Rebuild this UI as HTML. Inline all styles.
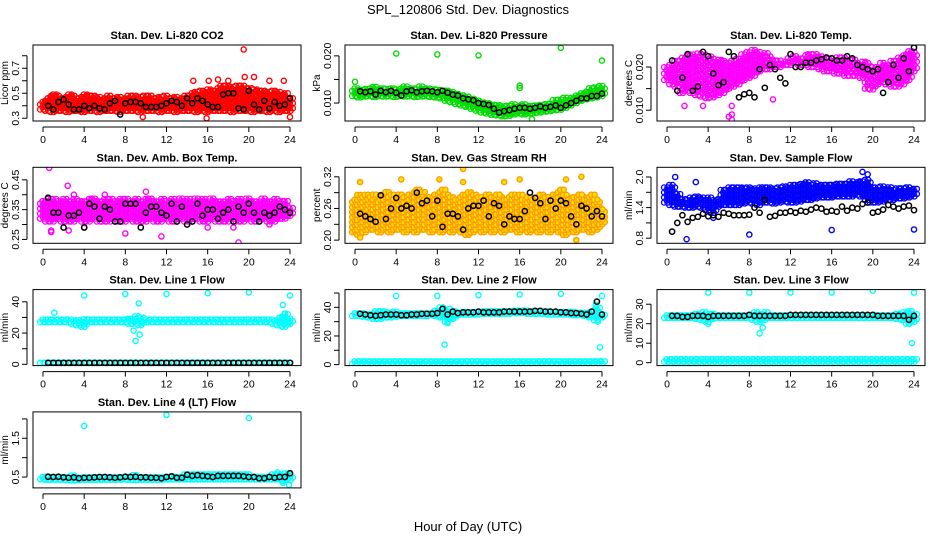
<!DOCTYPE html>
<html><head><meta charset="utf-8">
<style>
html,body{margin:0;padding:0;background:#fff;}
svg{display:block;font-family:"Liberation Sans",sans-serif;}
</style></head>
<body>
<svg id="chart" width="936" height="540" viewBox="0 0 936 540" xmlns="http://www.w3.org/2000/svg">
<rect x="0" y="0" width="936" height="540" fill="#fff"/>
<text x="468" y="14" font-size="13" text-anchor="middle">SPL_120806  Std. Dev. Diagnostics</text>
<text x="468" y="531" font-size="13" text-anchor="middle">Hour of Day (UTC)</text>
</svg>
<script>
// ---- data (bins every 0.5 h from 0 to 24) ----
const hours = [0,0.5,1,1.5,2,2.5,3,3.5,4,4.5,5,5.5,6,6.5,7,7.5,8,8.5,9,9.5,10,10.5,11,11.5,12,12.5,13,13.5,14,14.5,15,15.5,16,16.5,17,17.5,18,18.5,19,19.5,20,20.5,21,21.5,22,22.5,23,23.5,24];
const xTicks = [0,4,8,12,16,20,24];

const co2Lo = [0.37,0.36,0.35,0.36,0.36,0.35,0.36,0.36,0.35,0.36,0.36,0.35,0.36,0.36,0.36,0.35,0.36,0.36,0.36,0.35,0.36,0.36,0.36,0.35,0.36,0.36,0.35,0.36,0.36,0.36,0.35,0.36,0.35,0.36,0.36,0.36,0.36,0.35,0.36,0.36,0.36,0.35,0.36,0.36,0.35,0.36,0.35,0.36,0.36];
const co2Hi = [0.43,0.47,0.49,0.48,0.47,0.49,0.48,0.47,0.49,0.48,0.48,0.47,0.47,0.48,0.46,0.47,0.47,0.48,0.48,0.47,0.49,0.48,0.47,0.47,0.48,0.47,0.48,0.47,0.48,0.50,0.52,0.52,0.54,0.52,0.55,0.56,0.56,0.55,0.57,0.56,0.55,0.54,0.53,0.53,0.52,0.52,0.51,0.50,0.47];
const co2Blk = [0.40,0.40,0.37,0.43,0.45,0.41,0.37,0.37,0.40,0.38,0.40,0.38,0.37,0.42,0.44,0.33,0.42,0.43,0.43,0.42,0.39,0.39,0.39,0.40,0.42,0.44,0.43,0.40,0.46,0.42,0.46,0.44,0.41,0.39,0.39,0.49,0.50,0.50,0.38,0.37,0.52,0.41,0.37,0.44,0.38,0.43,0.40,0.41,0.46];
const co2Out = [[19.5,0.85],[19.6,0.63],[20.5,0.63],[16.1,0.6],[14.6,0.6],[17,0.61],[18,0.6],[22,0.6],[23.4,0.6],[9.7,0.31],[15.9,0.3],[24,0.31],[0.8,0.48]];

const presLo = [11.5,11.2,11.4,11.5,11.3,11.5,11.4,11.5,11.3,11.5,11.4,11.5,11.3,11.4,11.5,11.3,11.2,11.0,10.5,10.2,9.8,9.5,9.2,8.8,8.4,8.0,7.8,7.5,7.4,7.2,7.3,7.6,7.8,7.6,7.8,7.9,8.0,8.2,8.3,8.5,8.6,9.0,9.5,10.0,10.5,10.8,11.0,11.2,11.5];
const presHi = [13.4,13.2,13.5,13.5,13.6,13.4,13.5,13.6,13.4,13.5,13.6,13.5,13.4,13.6,13.3,13.4,13.2,13.0,12.8,12.5,12.0,11.8,11.6,11.2,10.8,10.5,10.2,9.8,9.6,9.4,9.5,9.8,9.6,9.8,9.7,10.0,10.0,10.2,10.4,10.8,10.8,11.2,11.6,12.0,12.5,12.8,13.2,13.6,14.0];
const presBlk = [12,12.5,12.3,12.5,11.8,12.6,12.3,12.6,12.2,11.6,12.5,12.7,12.3,12.5,12.6,12.5,12.3,12.6,12.2,11.8,11.6,11.0,10.8,10.6,10.0,9.8,9.6,8.8,8.0,8.3,8.5,8.8,9.0,9.0,8.8,9.0,9.3,9.0,9.2,9.5,9.0,9.5,10.0,10.5,11.0,11.0,11.5,11.5,12.0];
const presOut = [[4,20.5],[8,20.3],[12,20.1],[20,21.7],[24,19],[0,14.5],[16,13.2],[16,13.7],[17.2,6.6]];

const tempLo = [17,16,15.5,14,14.5,14,13.5,13.2,12.8,13,13.5,14,15,15.5,16,17,17.5,18,19,19.5,19.5,20,20,20.5,20.5,21,20.5,20.5,20,20,19.5,19,19,18.5,18.5,18,18,18,17.5,15,14.8,16,16.5,16,15.5,15.5,16,17,19];
const tempHi = [20,21,22,22.5,23,23.5,23.5,23,23,22,22,21.5,21,21.5,22.5,23,24,24,24,23.5,23,22,21.5,21.5,22,22.5,22.5,23,23,23,23,22.5,22.5,22.5,22.5,22,22,21.5,21.5,21,20,20,21,21,22,22.5,23,24,24];
const tempBlk = [19,21.5,14.5,17.5,23,14.5,15.5,23.5,22.5,18.5,15.8,16.5,23.5,22.5,13,13.7,14,13,19.5,15.2,20.5,19.5,17.5,16.2,23,20,20,21,21,21.5,21.8,22.2,22,21.5,21.5,22.5,22,20.5,20,19.5,19,19.5,14,16.5,20.5,17.5,22,19,24.5];
const tempOut = [[6.3,7.8],[6.3,9],[6.3,11],[10.3,12.5],[6.0,8.5],[3.5,11],[1.7,11]];

const ambLo = [0.32,0.31,0.31,0.32,0.31,0.31,0.31,0.32,0.31,0.31,0.32,0.31,0.31,0.31,0.32,0.31,0.31,0.32,0.31,0.31,0.31,0.32,0.31,0.31,0.32,0.31,0.31,0.32,0.31,0.31,0.32,0.31,0.31,0.32,0.31,0.31,0.31,0.32,0.31,0.31,0.32,0.31,0.31,0.32,0.31,0.31,0.32,0.32,0.33];
const ambHi = [0.38,0.39,0.39,0.38,0.39,0.38,0.39,0.38,0.38,0.39,0.39,0.38,0.39,0.39,0.38,0.39,0.39,0.38,0.39,0.38,0.39,0.39,0.38,0.39,0.38,0.39,0.38,0.39,0.39,0.38,0.39,0.39,0.38,0.39,0.38,0.38,0.39,0.38,0.39,0.38,0.39,0.38,0.38,0.39,0.38,0.39,0.38,0.38,0.36];
const ambBlk = [0.37,0.39,0.34,0.34,0.29,0.33,0.33,0.34,0.29,0.37,0.36,0.32,0.36,0.35,0.31,0.31,0.37,0.37,0.37,0.29,0.34,0.36,0.36,0.34,0.33,0.37,0.31,0.36,0.30,0.31,0.37,0.33,0.35,0.35,0.32,0.34,0.35,0.31,0.36,0.34,0.37,0.34,0.31,0.34,0.33,0.34,0.36,0.35,0.34];
const ambOut = [[0.6,0.49],[2.4,0.43],[0.8,0.275],[0.8,0.28],[8,0.27],[11.5,0.26],[19,0.24],[2.5,0.28],[4,0.29],[16,0.29],[18.5,0.29],[22,0.30],[10,0.41],[6,0.40],[3,0.40]];

const rhLo = [0.215,0.21,0.215,0.22,0.22,0.215,0.22,0.215,0.22,0.22,0.215,0.22,0.215,0.22,0.22,0.215,0.22,0.215,0.22,0.215,0.22,0.215,0.21,0.215,0.22,0.215,0.22,0.215,0.22,0.215,0.22,0.22,0.215,0.22,0.215,0.22,0.215,0.22,0.215,0.22,0.215,0.21,0.22,0.215,0.22,0.22,0.215,0.22,0.23];
const rhHi = [0.28,0.29,0.29,0.285,0.29,0.28,0.295,0.29,0.28,0.29,0.285,0.29,0.3,0.295,0.28,0.285,0.29,0.3,0.29,0.285,0.28,0.29,0.295,0.29,0.285,0.28,0.29,0.285,0.29,0.28,0.285,0.29,0.29,0.28,0.285,0.28,0.29,0.285,0.28,0.29,0.3,0.29,0.28,0.285,0.29,0.28,0.29,0.28,0.26];
const rhBlk = [0.26,0.25,0.245,0.24,0.235,0.285,0.24,0.26,0.28,0.26,0.265,0.26,0.29,0.27,0.275,0.245,0.275,0.225,0.25,0.25,0.245,0.22,0.26,0.265,0.265,0.275,0.245,0.27,0.265,0.23,0.245,0.24,0.24,0.255,0.29,0.28,0.27,0.24,0.275,0.26,0.275,0.27,0.245,0.23,0.265,0.26,0.245,0.255,0.245];
const rhOut = [[0.5,0.31],[0.5,0.205],[4.5,0.315],[8.2,0.315],[10.5,0.335],[10.5,0.31],[14.5,0.31],[16,0.315],[20.5,0.315],[21.5,0.20],[22,0.32]];

const flowLo = [1.5,1.45,1.42,1.42,1.4,1.4,1.42,1.4,1.35,1.3,1.42,1.45,1.45,1.45,1.45,1.48,1.5,1.48,1.45,1.5,1.5,1.48,1.5,1.52,1.5,1.5,1.52,1.55,1.55,1.58,1.6,1.6,1.6,1.62,1.62,1.62,1.62,1.65,1.62,1.55,1.5,1.5,1.52,1.55,1.55,1.58,1.58,1.6,1.62];
const flowHi = [1.8,1.85,1.7,1.6,1.58,1.6,1.62,1.62,1.6,1.58,1.6,1.75,1.8,1.82,1.8,1.78,1.8,1.8,1.8,1.82,1.8,1.8,1.82,1.82,1.85,1.88,1.9,1.9,1.88,1.88,1.88,1.85,1.85,1.88,1.9,1.9,1.92,1.92,1.92,1.95,1.8,1.8,1.85,1.8,1.78,1.78,1.8,1.82,1.8];
const flowBlk = [1.3,0.93,1.1,1.25,1.12,1.2,1.22,1.28,1.23,1.25,1.22,1.3,1.28,1.25,1.25,1.25,1.26,1.4,1.3,1.55,1.22,1.24,1.3,1.3,1.33,1.3,1.34,1.32,1.36,1.4,1.38,1.32,1.34,1.32,1.42,1.34,1.4,1.38,1.47,1.5,1.3,1.32,1.36,1.45,1.42,1.38,1.42,1.44,1.35];
const flowOut = [[0.8,2.0],[2.8,1.9],[1.9,0.78],[8,0.87],[16,0.96],[24,0.97],[19,2.1],[19.5,2.05],[4.5,1.2]];

const l1Lo = [27,27,27,27,27,27,26,25,24,27,27,27,27,27,27,27,27,26,26,25,27,27,27,27,27,27,27,27,27,27,27,27,27,27,27,27,27,27,27,27,27,27,27,27,27,26,25,24,26];
const l1Hi = [28.7,28.7,28.7,28.7,28.7,28.7,28.7,29,29.5,28.7,28.7,28.7,28.7,28.7,28.7,28.7,28.7,30,31,30,28.7,28.7,28.7,28.7,28.7,28.7,28.7,28.7,28.7,28.7,28.7,28.7,28.7,28.7,28.7,28.7,28.7,28.7,28.7,28.7,28.7,28.7,28.7,28.7,28.7,29,31,32,30];
const l1BaseLo = [1,1,1,1,1,1,1,1,1,1,1,1,1,1,1,1,1,1,1,1,1,1,1,1,1,1,1,1,1,1,1,1,1,1,1,1,1,1,1,1,1,1,1,1,1,1,1,1,1];
const l1BaseHi = [2,2,2,2,2,2,2,2,2,2,2,2,2,2,2,2,2,2,2,2,2,2,2,2,2,2,2,2,2,2,2,2,2,2,2,2,2,2,2,2,2,2,2,2,2,2,2,2,2];
const l1Blk = [1,1,1,1,1,1,1,1,1,1,1,1,1,1,1,1,1,1,1,1,1,1,1,1,1,1,1,1,1,1,1,1,1,1,1,1,1,1,1,1,1,1,1,1,1,1,1,1,1];
const l1Out = [[4,44],[8,45],[12,45],[16,45.5],[20,46],[24,44],[9,15],[8.8,21.5],[9.4,19],[9.3,39],[23.3,38],[23.5,32.5],[1.1,33]];

const l2Lo = [34,34,33.5,33,32,32,33,33,33.5,34,34,34,34,34,34,34.5,34,33,30,32,34.5,35,35,35,35,35.5,35.5,35.5,35.5,35.5,35.5,36,36,36,35.5,35.5,35.5,35.5,35,35,35,35,35,34.5,34.5,34,33,31,33];
const l2Hi = [36.5,36.5,36,36,38,38,37,36.5,37,37,36.5,36.5,36.5,36.5,36.5,37,38,40,38,38,37,37,37,37,37,37.5,37.5,37.5,37.5,37.5,38,38,38,38,38,37.5,37.5,37.5,37.5,37.5,37.5,37,37,37,37,37,38,40,36];
const l2BaseLo = [0.5,0.5,0.5,0.5,0.5,0.5,0.5,0.5,0.5,0.5,0.5,0.5,0.5,0.5,0.5,0.5,0.5,0.5,0.5,0.5,0.5,0.5,0.5,0.5,0.5,0.5,0.5,0.5,0.5,0.5,0.5,0.5,0.5,0.5,0.5,0.5,0.5,0.5,0.5,0.5,0.5,0.5,0.5,0.5,0.5,0.5,0.5,0.5,0.5];
const l2BaseHi = [3,3,3,3,3,3,3,3,3,3,3,3,3,3,3,3,3,3,3,3,3,3,3,3,3,3,3,3,3,3,3,3,3,3,3,3,3,3,3,3,3,3,3,3,3,3,3,3,3];
const l2Blk = [35,35.5,35,34.5,34,34.5,35,35,35,34.5,34.5,35,35,35.5,35.5,35.5,36,39,35,37,36,36.5,36.5,36.5,37,36.5,36.5,36.5,36.5,37,37,37,37,37,37,37.5,37.5,37,37,37,36.5,36.5,36,36,35.5,35,37,44,35];
const l2Out = [[4,48],[8,48],[12,48.5],[16,49],[20,49.5],[24,48],[8.7,14],[9,29],[9.2,39],[23.4,42],[23.8,12],[23.6,30]];

const l3Lo = [23,23,23,23,23,23,22.5,22,21,22.5,23,23,23,23,23,23,23,22,21,22,23,23,23,23,23,23,23,23,23,23,23,23,23,23,23,23,23,23,23,23,23,23,23,23,23,22.5,22,20,21];
const l3Hi = [25,25,25,25,25,25,25.5,26,26,25.5,25,25,25,25,25,25,25.5,26,26,26,25,25,25,25,25,25,25,25,25,25,25,25,25,25,25,25,25,25,25,25,25,25,25,25,25,25.5,26,27,26];
const l3BaseLo = [0.5,0.5,0.5,0.5,0.5,0.5,0.5,0.5,0.5,0.5,0.5,0.5,0.5,0.5,0.5,0.5,0.5,0.5,0.5,0.5,0.5,0.5,0.5,0.5,0.5,0.5,0.5,0.5,0.5,0.5,0.5,0.5,0.5,0.5,0.5,0.5,0.5,0.5,0.5,0.5,0.5,0.5,0.5,0.5,0.5,0.5,0.5,0.5,0.5];
const l3BaseHi = [2.5,2.5,2.5,2.5,2.5,2.5,2.5,2.5,2.5,2.5,2.5,2.5,2.5,2.5,2.5,2.5,2.5,2.5,2.5,2.5,2.5,2.5,2.5,2.5,2.5,2.5,2.5,2.5,2.5,2.5,2.5,2.5,2.5,2.5,2.5,2.5,2.5,2.5,2.5,2.5,2.5,2.5,2.5,2.5,2.5,2.5,2.5,2.5,2.5];
const l3Blk = [24,24,24,23.5,23.5,24,24,24,23.5,24,24,24,24,24,24,24,24.5,24,24,24,24,24,24,24,24.5,24.5,24.5,24.5,24.5,24.5,24.5,24.5,24.5,24.5,24.5,24.5,24.5,24.5,24.5,24.5,24.5,24,24,24,24,24,24,22,24];
const l3Out = [[4,36],[8,36],[12,36],[16,36],[20,37],[24,36],[9,15],[9.3,18],[4,20],[23.8,10],[23.5,20]];

const l4Lo = [0.44,0.43,0.43,0.43,0.43,0.42,0.41,0.42,0.43,0.43,0.43,0.43,0.43,0.43,0.43,0.43,0.44,0.43,0.42,0.43,0.43,0.43,0.43,0.43,0.44,0.44,0.44,0.44,0.44,0.44,0.44,0.44,0.44,0.44,0.44,0.44,0.44,0.44,0.44,0.44,0.44,0.44,0.44,0.44,0.44,0.44,0.44,0.4,0.42];
const l4Hi = [0.55,0.55,0.54,0.54,0.54,0.54,0.54,0.54,0.55,0.54,0.54,0.54,0.54,0.54,0.54,0.55,0.55,0.55,0.57,0.55,0.55,0.55,0.55,0.55,0.55,0.56,0.56,0.56,0.57,0.57,0.57,0.57,0.57,0.57,0.57,0.57,0.57,0.57,0.57,0.57,0.57,0.56,0.56,0.56,0.56,0.57,0.6,0.62,0.58];
const l4Blk = [0.5,0.51,0.5,0.51,0.49,0.48,0.49,0.47,0.48,0.48,0.49,0.5,0.5,0.49,0.48,0.49,0.51,0.5,0.51,0.49,0.49,0.48,0.48,0.47,0.5,0.52,0.48,0.48,0.56,0.53,0.55,0.53,0.52,0.5,0.53,0.53,0.53,0.53,0.53,0.52,0.5,0.5,0.47,0.47,0.5,0.48,0.5,0.5,0.6];
const l4Out = [[4,1.82],[12,2.1],[20,2.02],[23.3,0.35],[22.8,0.62],[23.9,0.3]];

const panels = [
 {name:'co2',title:'Stan. Dev. Li-820 CO2',ylab:'Licor ppm',row:0,col:0,ymin:0.278,ymax:0.886,step:2.5,ticks:[0.3,0.4,0.5,0.6,0.7,0.8],labels:['0.3','','0.5','','0.7',''],color:'#ff0000',fill:'none',bands:[[co2Lo,co2Hi]],blk:co2Blk,out:co2Out},
 {name:'pressure',title:'Stan. Dev. Li-820 Pressure',ylab:'kPa',row:0,col:1,ymin:6.2,ymax:22.3,step:2.5,ticks:[10,15,20],labels:['0.010','','0.020'],color:'#00dd00',fill:'none',bands:[[presLo,presHi]],blk:presBlk,out:presOut},
 {name:'temp',title:'Stan. Dev. Li-820 Temp.',ylab:'degrees C',row:0,col:2,ymin:7.5,ymax:25.1,step:3.2,ticks:[10,15,20],labels:['0.010','','0.020'],color:'#ff00ff',fill:'none',bands:[[tempLo,tempHi]],blk:tempBlk,out:tempOut},
 {name:'amb-temp',title:'Stan. Dev. Amb. Box Temp.',ylab:'degrees C',row:1,col:0,ymin:0.237,ymax:0.492,step:2.5,ticks:[0.25,0.30,0.35,0.40,0.45],labels:['0.25','','0.35','','0.45'],color:'#ff00ff',fill:'none',bands:[[ambLo,ambHi]],blk:ambBlk,out:ambOut},
 {name:'rh',title:'Stan. Dev. Gas Stream RH',ylab:'percent',row:1,col:1,ymin:0.194,ymax:0.338,step:2.5,ticks:[0.20,0.23,0.26,0.29,0.32],labels:['0.20','','0.26','','0.32'],color:'#ff9a00',fill:'#ffe400',bands:[[rhLo,rhHi]],blk:rhBlk,out:rhOut},
 {name:'sample-flow',title:'Stan. Dev. Sample Flow',ylab:'ml/min',row:1,col:2,ymin:0.70,ymax:2.19,step:2.5,ticks:[0.8,1.1,1.4,1.7,2.0],labels:['0.8','','1.4','','2.0'],color:'#0000ff',fill:'none',bands:[[flowLo,flowHi]],blk:flowBlk,out:flowOut},
 {name:'line1',title:'Stan. Dev. Line 1 Flow',ylab:'ml/min',row:2,col:0,ymin:-0.8,ymax:47.8,step:2.5,ticks:[0,10,20,30,40],labels:['0','','20','','40'],color:'#00ffff',fill:'none',bands:[[l1Lo,l1Hi],[l1BaseLo,l1BaseHi]],blk:l1Blk,out:l1Out},
 {name:'line2',title:'Stan. Dev. Line 2 Flow',ylab:'ml/min',row:2,col:1,ymin:-0.7,ymax:52.4,step:2.5,ticks:[0,10,20,30,40,50],labels:['0','','20','','40',''],color:'#00ffff',fill:'none',bands:[[l2Lo,l2Hi],[l2BaseLo,l2BaseHi]],blk:l2Blk,out:l2Out},
 {name:'line3',title:'Stan. Dev. Line 3 Flow',ylab:'ml/min',row:2,col:2,ymin:-1.5,ymax:37.5,step:2.5,ticks:[0,10,20,30],labels:['0','10','20','30'],color:'#00ffff',fill:'none',bands:[[l3Lo,l3Hi],[l3BaseLo,l3BaseHi]],blk:l3Blk,out:l3Out},
 {name:'line4',title:'Stan. Dev. Line 4 (LT) Flow',ylab:'ml/min',row:3,col:0,ymin:0.22,ymax:2.18,step:2.5,ticks:[0.5,1.0,1.5,2.0],labels:['0.5','','1.5',''],color:'#00ffff',fill:'none',bands:[[l4Lo,l4Hi]],blk:l4Blk,out:l4Out}
];

const NS = 'http://www.w3.org/2000/svg';
const svg = document.getElementById('chart');
function mk(tag, attrs, parent){
  const e = document.createElementNS(NS, tag);
  for (const k in attrs) e.setAttribute(k, attrs[k]);
  parent.appendChild(e);
  return e;
}
function circle(g, cx, cy, stroke, fill, sw){
  const c = mk('circle', {cx:cx.toFixed(1), cy:cy.toFixed(1), r:2.6, fill:fill, stroke:stroke, 'stroke-width':sw}, g);
  return c;
}

panels.forEach(p => {
  const L = 33 + 312*p.col, R = L + 268;
  const T = 45 + 122.3*p.row, B = T + 76;
  const xs = h => L + 10 + h/24*247;
  const ys = v => B - (v - p.ymin)/(p.ymax - p.ymin)*(B - T);
  const g = mk('g', {}, svg);
  
  

  const t = mk('text', {x:(L+R)/2, y:T-6, 'font-size':11, 'font-weight':'bold', 'text-anchor':'middle'}, g);
  t.textContent = p.title;
  
  

  const cid = 'clip-' + p.name;
  const cp = mk('clipPath', {id:cid}, g);
  mk('rect', {x:L, y:T, width:R-L, height:B-T}, cp);
  const mg = mk('g', {'clip-path':'url(#'+cid+')'}, g);
  
  

  p.bands.forEach(b => {
    const lo = b[0], hi = b[1];
    hours.forEach((h, i) => {
      const yTop = ys(hi[i]), yBot = ys(lo[i]);
      let k = 0;
      for (let y = yBot; y >= yTop - 0.01; y -= p.step) {
        const off = (k % 2) ? 1.2 : -1.2;
        k++;
        for (let dx = -1.7; dx <= 1.7; dx += 3.4) {
          const c = circle(mg, xs(h) + dx + off, y, p.color, p.fill, 1.3);
          
          
        }
      }
    });
  });
  p.out.forEach(o => {
    const c = circle(mg, xs(o[0]), ys(o[1]), p.color, p.fill, 1.4);
    
    
  });
  p.blk.forEach((v, i) => {
    if (hours[i] === 0) return;
    const c = circle(mg, xs(hours[i]), ys(v), '#000', 'none', 1.5);
    
    
  });

  const box = mk('rect', {x:L, y:T, width:R-L, height:B-T, fill:'none', stroke:'#000', 'stroke-width':1}, g);
  
  

  const xa = mk('g', {}, g);
  
  
  mk('line', {x1:xs(0), x2:xs(24), y1:B+6, y2:B+6, stroke:'#000'}, xa);
  xTicks.forEach(h => {
    mk('line', {x1:xs(h), x2:xs(h), y1:B+6, y2:B+11, stroke:'#000'}, xa);
    const tl = mk('text', {x:xs(h), y:B+22, 'font-size':10.5, 'text-anchor':'middle'}, xa);
    tl.textContent = h;
    
    
  });

  const ya = mk('g', {}, g);
  
  
  const t0 = p.ticks[0], t1 = p.ticks[p.ticks.length-1];
  mk('line', {x1:L-6, x2:L-6, y1:ys(t0), y2:ys(t1), stroke:'#000'}, ya);
  p.ticks.forEach((v, i) => {
    const y = ys(v);
    mk('line', {x1:L-11, x2:L-6, y1:y, y2:y, stroke:'#000'}, ya);
    if (p.labels[i]) {
      const tl = mk('text', {x:L-14, y:y, 'font-size':10.5, 'text-anchor':'middle', transform:'rotate(-90 '+(L-14)+' '+y+')'}, ya);
      tl.textContent = p.labels[i];
      
      
    }
  });
  const yl = mk('text', {x:L-25, y:(T+B)/2, 'font-size':10, 'text-anchor':'middle', transform:'rotate(-90 '+(L-25)+' '+((T+B)/2)+')'}, ya);
  yl.textContent = p.ylab;
  
  
});
</script>
</body></html>
